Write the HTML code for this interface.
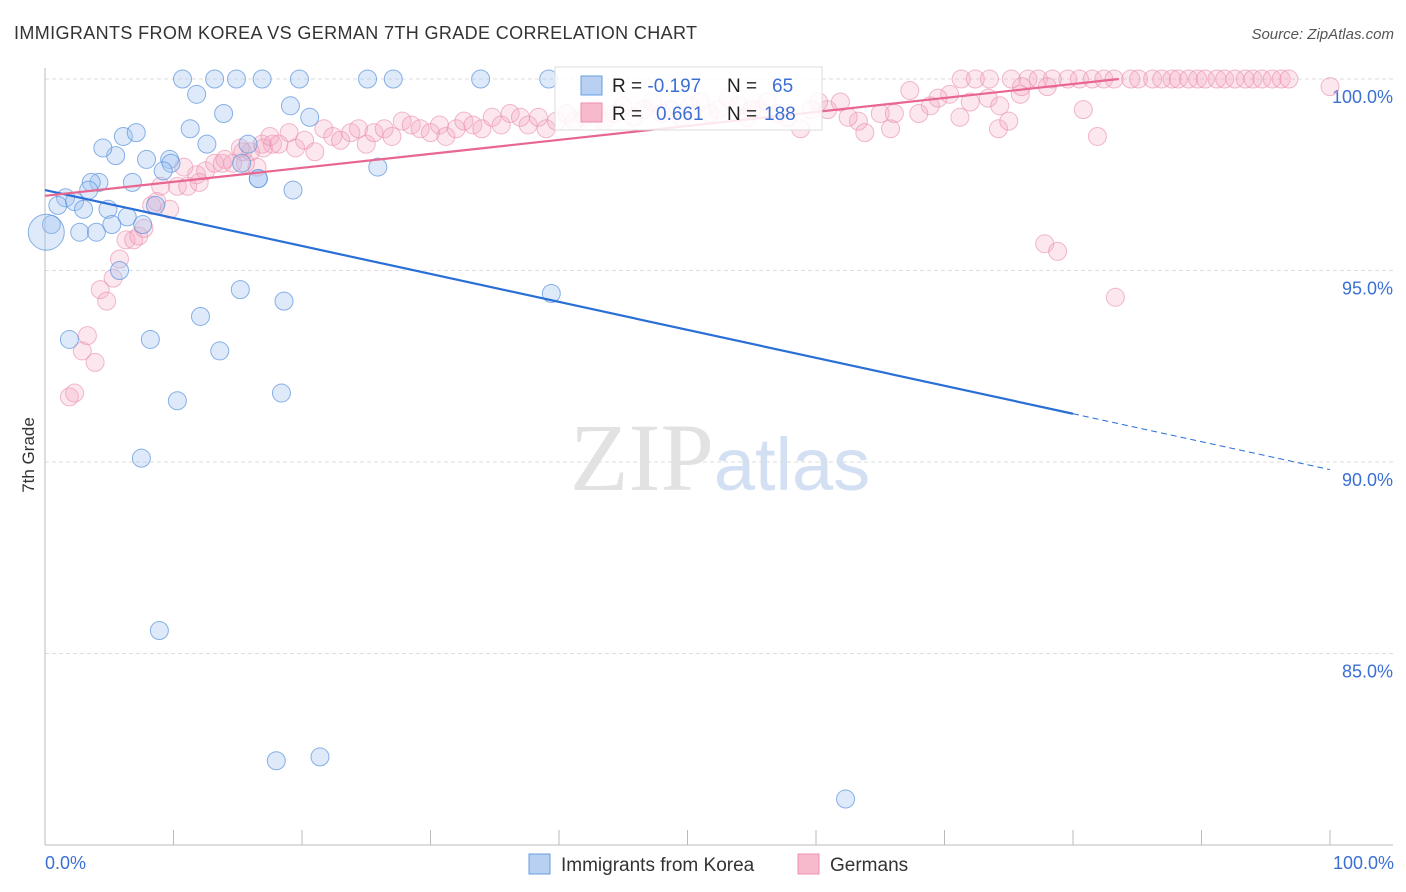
<!DOCTYPE html>
<html><head><meta charset="utf-8"><style>
body{margin:0;background:#fff;font-family:"Liberation Sans",sans-serif;}
#c{position:relative;width:1406px;height:892px;overflow:hidden}
</style></head><body>
<div id="c">
<svg id="s" width="1406" height="892">
<text x="14" y="39" font-size="18" fill="#333" textLength="683">IMMIGRANTS FROM KOREA VS GERMAN 7TH GRADE CORRELATION CHART</text>
<text x="1394" y="39" font-size="15" fill="#555" text-anchor="end" font-style="italic">Source: ZipAtlas.com</text>
<text x="720" y="490" font-size="96" fill="#e2e2e2" text-anchor="middle" font-family="Liberation Serif,serif">ZIP<tspan fill="#d3e0f3" font-family="Liberation Sans,sans-serif" font-size="74">atlas</tspan></text>
<g id="grid"></g><g id="pts"></g><g id="lines"></g>
<text transform="translate(34,455) rotate(-90)" font-size="17" fill="#333" text-anchor="middle">7th Grade</text>
<text x="45" y="869" font-size="18" fill="#3b6fd4">0.0%</text>
<text x="1394" y="869" font-size="18" fill="#3b6fd4" text-anchor="end">100.0%</text>
<g>
<rect x="555" y="67" width="267" height="63" fill="#fff" fill-opacity="0.85" stroke="#ddd"/>
<rect x="581" y="76" width="21" height="19" fill="#b8d1f3" stroke="#6a9de0"/>
<rect x="581" y="103" width="21" height="19" fill="#f7b9cc" stroke="#ec8fae"/>
<text x="612" y="92" font-size="19" fill="#222">R = <tspan fill="#3b6fd4">-0.197</tspan><tspan x="727">N = </tspan><tspan x="772" fill="#3b6fd4">65</tspan></text>
<text x="612" y="120" font-size="19" fill="#222">R = <tspan x="656" fill="#3b6fd4">0.661</tspan><tspan x="727">N = </tspan><tspan x="764" fill="#3b6fd4">188</tspan></text>
</g>
<g><rect x="529" y="854" width="21" height="20" fill="#b8d1f3" stroke="#6a9de0"/><text x="561" y="871" font-size="19" fill="#333">Immigrants from Korea</text></g>
<g><rect x="798" y="854" width="21" height="20" fill="#f7b9cc" stroke="#ec8fae"/><text x="830" y="871" font-size="19" fill="#333">Germans</text></g>
</svg></div>
<script>
const yTicks=[100,95,90,85];
const xTickCount=10;
const koreaX=[10.7,13.2,14.9,16.9,19.8,25.1,27.1,33.9,39.2,11.8,19.1,20.6,13.9,11.3,12.6,15.8,9.7,7.9,5.5,4.5,6.1,7.1,9.8,9.2,16.6,15.3,19.3,25.9,4.2,3.6,3.4,6.8,1.6,1.0,2.3,3.0,4.9,6.4,0.5,2.7,4.0,7.6,5.2,8.6,5.8,15.2,18.6,12.1,1.9,8.2,13.6,18.4,10.3,7.5,8.9,18.0,21.4,62.3,39.4,16.6,0.8];
const koreaY=[100,100,100,100,100,100,100,100,100,99.6,99.3,99.0,99.1,98.7,98.3,98.3,97.9,97.9,98.0,98.2,98.5,98.6,97.8,97.6,97.4,97.8,97.1,97.7,97.3,97.3,97.1,97.3,96.9,96.7,96.8,96.6,96.6,96.4,96.2,96.0,96.0,96.2,96.2,96.7,95.0,94.5,94.2,93.8,93.2,93.2,92.9,91.8,91.6,90.1,85.6,82.2,82.3,81.2,94.4,97.4,96.3];
const germanX=[1.9,2.3,2.9,3.9,3.3,4.3,4.8,5.3,5.8,6.3,6.9,7.3,7.7,8.3,8.7,9.7,9.0,10.3,11.1,11.8,12.5,13.2,13.8,14.6,15.4,16.0,16.9,17.7,16.5,15.6,15.2,
17.0,17.5,18.2,19.0,19.5,20.2,21.0,21.7,22.4,23.0,23.8,24.4,25.0,25.6,26.4,27.0,27.8,28.5,29.2,30.0,30.7,31.2,32.0,32.6,33.3,34.0,34.8,35.5,36.2,37.0,37.6,38.4,39.0,39.8,40.6,41.2,42.0,42.8,43.5,44.3,45.0,45.8,46.6,47.3,48.0,48.7,49.5,50.2,51.0,51.7,52.4,53.2,54.0,54.6,55.5,56.2,57.0,58.8,59.6,60.9,61.9,63.3,63.8,65.0,65.8,66.1,67.3,68.9,70.4,71.2,72.0,73.4,74.2,74.3,75.0,75.9,
71.3,72.4,73.5,75.2,76.5,77.3,78.4,79.6,80.5,81.5,82.4,83.2,84.5,85.1,86.2,86.9,87.7,88.2,89.0,89.7,90.3,91.2,91.8,92.6,93.4,94.0,94.7,95.5,96.2,96.8,
76.0,78.0,80.8,81.9,77.8,78.8,83.3,100,12.0,14.0,10.8,60.2,62.5,68.0,69.5,57.8,55.0];
const germanY=[91.7,91.8,92.9,92.6,93.3,94.5,94.2,94.8,95.3,95.8,95.8,95.9,96.1,96.7,96.8,96.6,97.2,97.2,97.2,97.5,97.6,97.8,97.8,97.8,98.1,98.1,98.3,98.3,97.7,97.8,98.2,
98.2,98.5,98.3,98.6,98.2,98.4,98.1,98.7,98.5,98.4,98.6,98.7,98.3,98.6,98.7,98.5,98.9,98.8,98.7,98.6,98.8,98.5,98.7,98.9,98.8,98.7,99.0,98.8,99.1,99.0,98.8,99.0,98.7,98.9,99.1,98.9,99.0,99.2,98.9,99.1,99.3,99.0,99.2,99.4,99.1,99.2,99.0,99.3,99.4,99.1,99.2,99.5,99.3,99.0,99.2,99.4,99.1,98.7,99.2,99.2,99.4,98.9,98.6,99.1,98.7,99.1,99.7,99.3,99.6,99.0,99.4,99.5,98.7,99.3,98.9,99.6,
100,100,100,100,100,100,100,100,100,100,100,100,100,100,100,100,100,100,100,100,100,100,100,100,100,100,100,100,100,100,
99.8,99.8,99.2,98.5,95.7,95.5,94.3,99.8,97.3,97.9,97.7,99.4,99.0,99.1,99.5,99.0,99.2];
const koreaTrend=[97.1,89.8];
const germanTrend=[96.95,100.6];
const koreaSolidEnd=80;

const X=v=>45+v*12.85, Y=v=>79+(100-v)*38.3;
const NS="http://www.w3.org/2000/svg";
function mk(t,a,p){const e=document.createElementNS(NS,t);for(const k in a)e.setAttribute(k,a[k]);p.appendChild(e);return e;}
const grid=document.getElementById('grid'),pts=document.getElementById('pts'),lines=document.getElementById('lines');
yTicks.forEach(t=>{
 const l=mk('line',{x1:45,x2:1393,y1:Y(t),y2:Y(t),stroke:'#ddd','stroke-dasharray':'4,3'},grid);
 
 
 const tx=mk('text',{x:1393,y:Y(t)+24,'font-size':18,fill:'#3b6fd4','text-anchor':'end'},grid);
 tx.textContent=t.toFixed(1)+'%';
 
 
});
mk('line',{x1:45,x2:45,y1:68,y2:845,stroke:'#bbb'},grid);
mk('line',{x1:45,x2:1393,y1:845,y2:845,stroke:'#bbb'},grid);
for(let i=0;i<=xTickCount;i++){
 const t=mk('line',{x1:X(i*10),x2:X(i*10),y1:830,y2:845,stroke:'#bbb'},grid);
 
 
}
germanX.forEach((x,i)=>{
 const c=mk('circle',{cx:X(x),cy:Y(germanY[i]),r:9,fill:'rgba(245,170,195,0.28)',stroke:'rgba(232,140,172,0.6)','stroke-width':1},pts);
 
 
});
koreaX.forEach((x,i)=>{
 const c=mk('circle',{cx:X(x),cy:Y(koreaY[i]),r:(i==koreaX.length-1?0:9),fill:'rgba(160,195,240,0.35)',stroke:'rgba(90,145,220,0.7)','stroke-width':1},pts);
 
 
});
const big=mk('circle',{cx:X(0.1),cy:Y(96.0),r:18,fill:'rgba(160,195,240,0.35)',stroke:'rgba(90,145,220,0.7)'},pts);


const ky=x=>koreaTrend[0]+(koreaTrend[1]-koreaTrend[0])*x/100;
const l1=mk('line',{x1:X(0),y1:Y(ky(0)),x2:X(koreaSolidEnd),y2:Y(ky(koreaSolidEnd)),stroke:'#2a6fd6','stroke-width':2.2},lines);


const l2=mk('line',{x1:X(koreaSolidEnd),y1:Y(ky(koreaSolidEnd)),x2:X(100),y2:Y(ky(100)),stroke:'#2a6fd6','stroke-width':1,'stroke-dasharray':'6,4'},lines);


const gEnd=(100-germanTrend[0])/(germanTrend[1]-germanTrend[0])*100;
const l3=mk('line',{x1:X(0),y1:Y(germanTrend[0]),x2:X(gEnd),y2:Y(100),stroke:'#e8668f','stroke-width':2.2},lines);


</script>
</body></html>
